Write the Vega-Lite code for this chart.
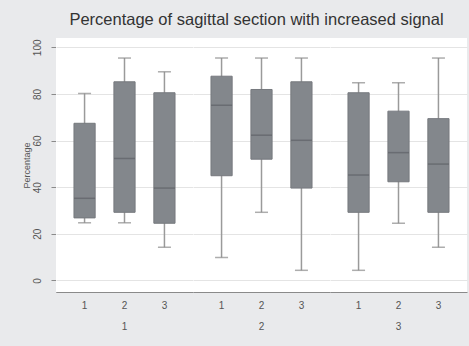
{
  "$schema": "https://vega.github.io/schema/vega-lite/v6.json",
  "background": "#e9eaec",
  "padding": {"left": 21, "top": 11, "right": 6, "bottom": 17},
  "title": {"text": "Percentage of sagittal section with increased signal", "font": "Liberation Sans", "fontSize": 16.5, "fontWeight": "normal", "color": "#333333", "anchor": "middle", "offset": 10, "dx": 12},
  "data": {"values": [
    {"group": 1, "sub": 1, "lower": 24.7, "q1": 26.8, "median": 35.2, "q3": 67.4, "upper": 80.2},
    {"group": 1, "sub": 2, "lower": 24.7, "q1": 29.2, "median": 52.3, "q3": 85.2, "upper": 95.4},
    {"group": 1, "sub": 3, "lower": 14.2, "q1": 24.5, "median": 39.6, "q3": 80.5, "upper": 89.5},
    {"group": 2, "sub": 1, "lower": 9.8, "q1": 44.9, "median": 75.1, "q3": 87.6, "upper": 95.4},
    {"group": 2, "sub": 2, "lower": 29.2, "q1": 52.0, "median": 62.3, "q3": 81.9, "upper": 95.4},
    {"group": 2, "sub": 3, "lower": 4.3, "q1": 39.6, "median": 60.1, "q3": 85.2, "upper": 95.4},
    {"group": 3, "sub": 1, "lower": 4.3, "q1": 29.2, "median": 45.2, "q3": 80.5, "upper": 84.8},
    {"group": 3, "sub": 2, "lower": 24.5, "q1": 42.3, "median": 54.8, "q3": 72.6, "upper": 84.8},
    {"group": 3, "sub": 3, "lower": 14.2, "q1": 29.2, "median": 49.9, "q3": 69.4, "upper": 95.4}
  ]},
  "facet": {"column": {"field": "group", "type": "ordinal", "title": null,
    "header": {"labelOrient": "bottom", "labelPadding": 12, "labelFont": "Liberation Sans", "labelFontSize": 10, "labelColor": "#555555"}}},
  "spacing": 0,
  "spec": {
    "width": 137,
    "height": 254,
    "encoding": {
      "x": {"field": "sub", "type": "ordinal", "title": null,
        "scale": {"paddingInner": 0.47, "paddingOuter": 0.45},
        "axis": {"labelAngle": 0, "ticks": false, "labelPadding": 8, "grid": false}}
    },
    "layer": [
      {"mark": {"type": "rule", "color": "#9a9a9a", "strokeWidth": 1.5},
       "encoding": {
         "y": {"field": "lower", "type": "quantitative", "title": "Percentage",
           "scale": {"domain": [-5, 104], "nice": false, "zero": false},
           "axis": {"values": [0, 20, 40, 60, 80, 100], "labelAngle": -90, "labelAlign": "center", "labelBaseline": "bottom", "titlePadding": 1, "labelPadding": 9}},
         "y2": {"field": "upper"}}},
      {"mark": {"type": "tick", "color": "#8a8a8a", "size": 13, "thickness": 1.5},
       "encoding": {"y": {"field": "lower", "type": "quantitative"}}},
      {"mark": {"type": "tick", "color": "#8a8a8a", "size": 13, "thickness": 1.5},
       "encoding": {"y": {"field": "upper", "type": "quantitative"}}},
      {"mark": {"type": "bar", "color": "#83878c", "stroke": "#76797e", "strokeWidth": 1},
       "encoding": {"y": {"field": "q1", "type": "quantitative"}, "y2": {"field": "q3"}}},
      {"mark": {"type": "tick", "color": "#5e6166", "size": 21, "thickness": 1.5},
       "encoding": {"y": {"field": "median", "type": "quantitative"}}}
    ]
  },
  "config": {
    "view": {"fill": "white", "stroke": null},
    "axis": {"labelFont": "Liberation Sans", "labelFontSize": 10, "labelColor": "#555555", "titleFont": "Liberation Sans", "titleFontSize": 9, "titleFontWeight": "normal", "titleColor": "#555555", "domainColor": "#8a8a8a", "tickColor": "#8a8a8a", "tickSize": 5, "gridColor": "#e4e4e4", "gridWidth": 1}
  }
}
